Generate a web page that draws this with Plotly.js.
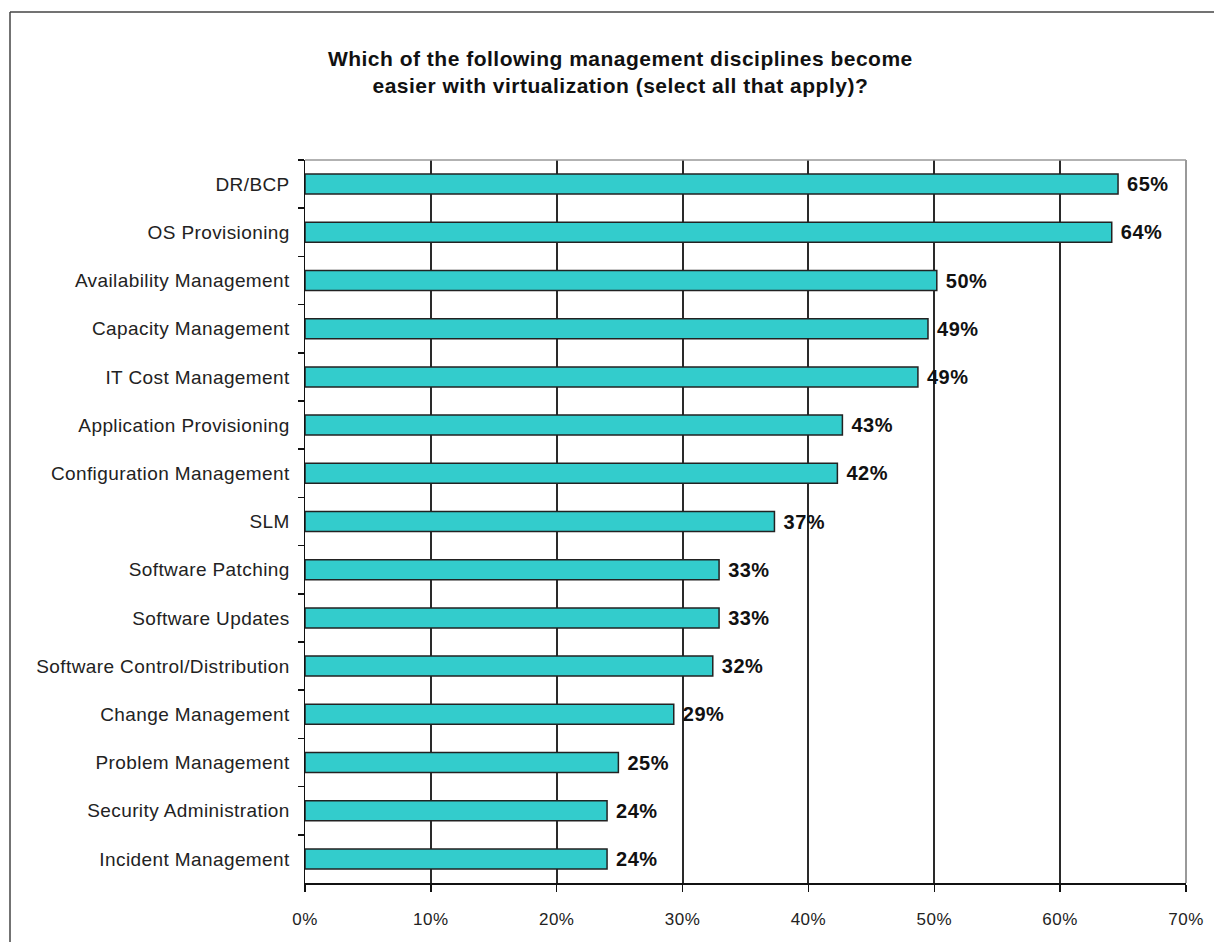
<!DOCTYPE html>
<html>
<head>
<meta charset="utf-8">
<script src="https://cdn.plot.ly/plotly-3.0.1.min.js"></script>
<style>
  html, body { margin: 0; padding: 0; background: #ffffff; }
  #chart { width: 1214px; height: 942px; }
  .gtitle { letter-spacing: 0.5px; }
  .ytick text { letter-spacing: 0.4px; }
  .xtick text { letter-spacing: 0.5px; }
  .bartext text, text.bartext { letter-spacing: 0.5px; }
</style>
</head>
<body>
<div id="chart"></div>
<script>
// Categories, top to bottom
const categories = [
  "DR/BCP",
  "OS Provisioning",
  "Availability Management",
  "Capacity Management",
  "IT Cost Management",
  "Application Provisioning",
  "Configuration Management",
  "SLM",
  "Software Patching",
  "Software Updates",
  "Software Control/Distribution",
  "Change Management",
  "Problem Management",
  "Security Administration",
  "Incident Management"
];
// Share of respondents (%)
const values = [64.6, 64.1, 50.2, 49.5, 48.7, 42.7, 42.3, 37.3, 32.9, 32.9, 32.4, 29.3, 24.9, 24.0, 24.0];
// Data labels as printed
const valueLabels = ["65%", "64%", "50%", "49%", "49%", "43%", "42%", "37%", "33%", "33%", "32%", "29%", "25%", "24%", "24%"];
const xTickVals = [0, 10, 20, 30, 40, 50, 60, 70];
const xTickText = ["0%", "10%", "20%", "30%", "40%", "50%", "60%", "70%"];
const titleText = "Which of the following management disciplines become<br>easier with virtualization (select all that apply)?";

const FONT = "Liberation Sans, Arial, sans-serif";

const trace = {
  type: "bar",
  orientation: "h",
  y: categories,
  x: values,
  text: valueLabels.map(s => " " + s),
  textposition: "outside",
  constraintext: "none",
  cliponaxis: false,
  textfont: { family: FONT, size: 20, color: "#111111", weight: "bold" },
  marker: { color: "#33CCCC", line: { color: "#222222", width: 1.5 } },
  hoverinfo: "none"
};

const layout = {
  width: 1214,
  height: 942,
  margin: { l: 305, r: 28, t: 160, b: 59, pad: 0 },
  paper_bgcolor: "#ffffff",
  plot_bgcolor: "#ffffff",
  showlegend: false,
  bargap: 0.585,
  font: { family: FONT, color: "#222222" },
  title: {
    text: titleText,
    x: 0.511,
    xref: "container",
    xanchor: "center",
    y: 1 - 66 / 942,
    yref: "container",
    yanchor: "middle",
    font: { family: FONT, size: 21, color: "#111111", weight: "bold", lineposition: "none" }
  },
  xaxis: {
    range: [0, 70],
    tickvals: xTickVals,
    ticktext: xTickText,
    showgrid: true,
    gridcolor: "#2a2a2a",
    gridwidth: 2,
    zeroline: false,
    showline: true,
    linecolor: "#111111",
    linewidth: 1.5,
    ticks: "outside",
    ticklen: 7,
    tickwidth: 1.5,
    tickcolor: "#111111",
    ticklabelstandoff: 13,
    tickfont: { family: FONT, size: 17, color: "#222222" },
    fixedrange: true
  },
  yaxis: {
    type: "category",
    autorange: "reversed",
    showgrid: false,
    zeroline: false,
    showline: true,
    linecolor: "#111111",
    linewidth: 1.5,
    ticks: "outside",
    tickson: "boundaries",
    ticklen: 6,
    tickwidth: 1.5,
    tickcolor: "#111111",
    ticklabelstandoff: 10,
    tickfont: { family: FONT, size: 19, color: "#222222" },
    fixedrange: true
  },
  shapes: [
    // gray top and right border of the plot area
    { type: "line", xref: "paper", yref: "paper", x0: 0, x1: 1, y0: 1, y1: 1,
      line: { color: "#999999", width: 1.5 }, layer: "above" },
    { type: "line", xref: "paper", yref: "paper", x0: 1, x1: 1, y0: 0, y1: 1,
      line: { color: "#999999", width: 2 }, layer: "above" },
    // outer chart frame (left and top edges visible)
    { type: "line", xref: "paper", yref: "paper",
      x0: (10 - 305) / 881, x1: (10 - 305) / 881, y0: 1 + (160 - 12) / 723, y1: -0.2,
      line: { color: "#444444", width: 1.5 } },
    { type: "line", xref: "paper", yref: "paper",
      x0: (10 - 305) / 881, x1: 1.1, y0: 1 + (160 - 12) / 723, y1: 1 + (160 - 12) / 723,
      line: { color: "#444444", width: 1.5 } }
  ]
};

Plotly.newPlot("chart", [trace], layout, { displayModeBar: false, staticPlot: true });
</script>
</body>
</html>
